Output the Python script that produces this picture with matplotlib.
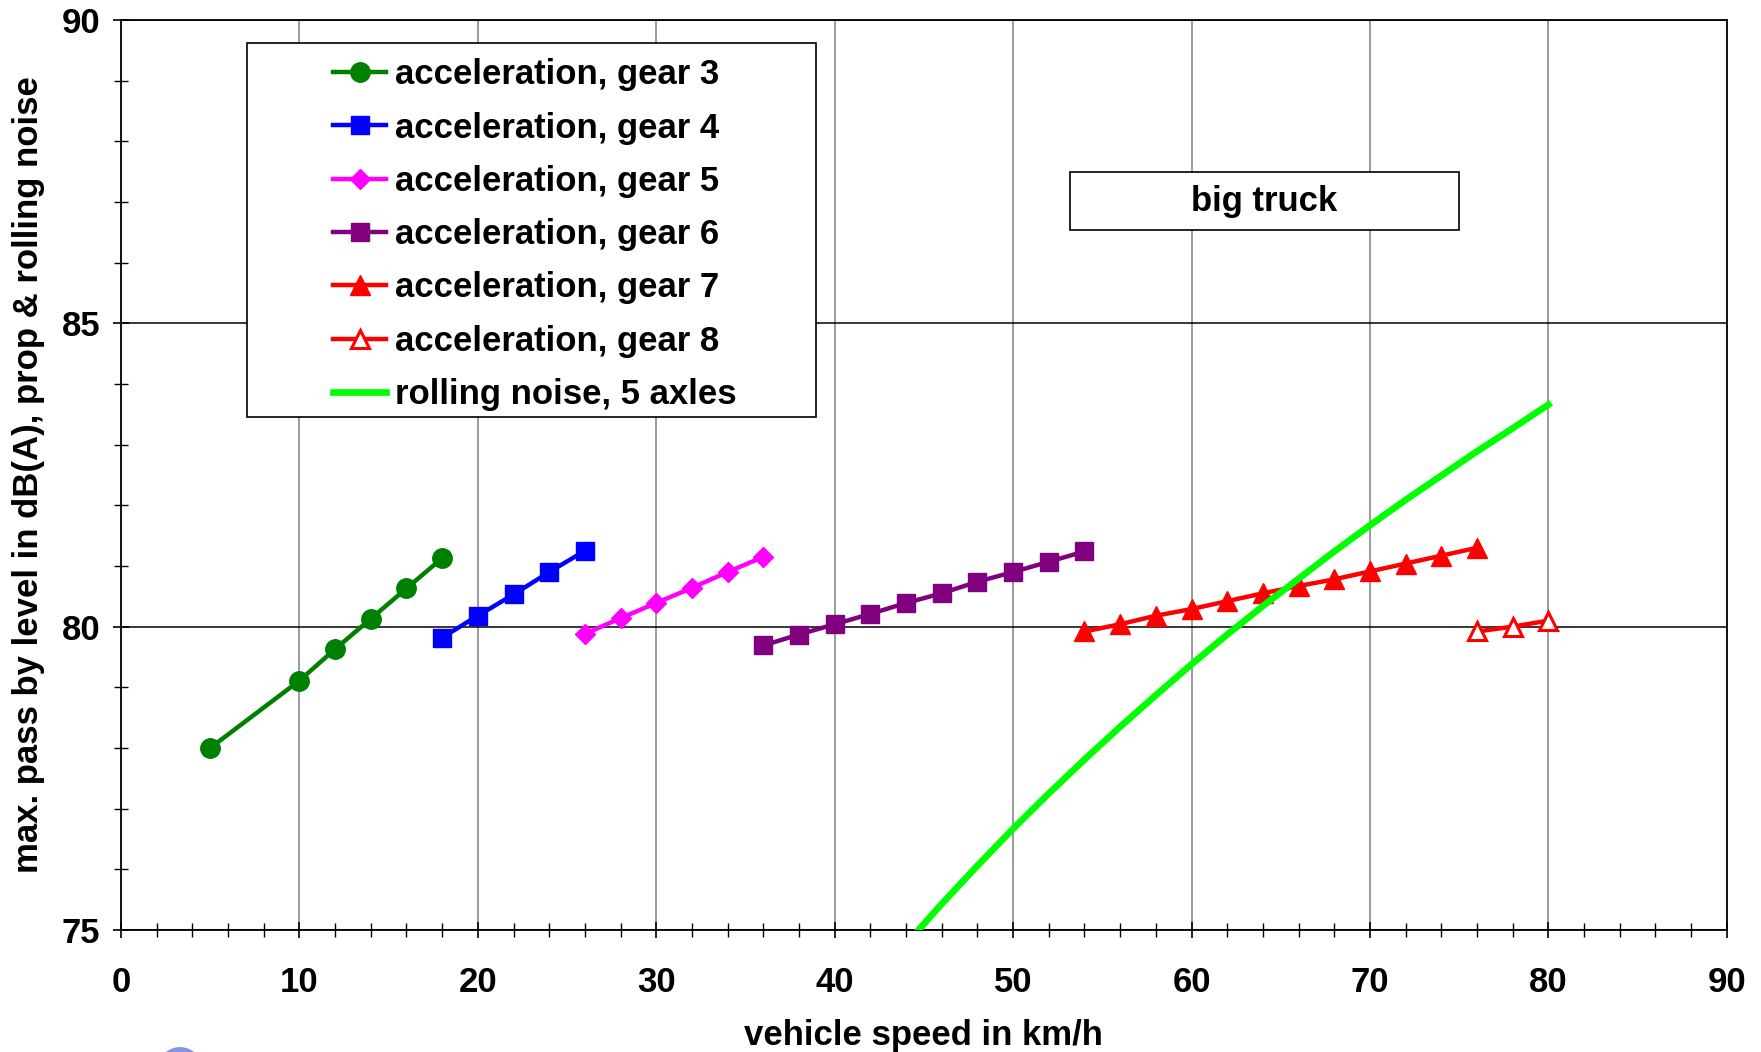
import matplotlib
matplotlib.use("Agg")
import matplotlib.pyplot as plt
from matplotlib.patches import Rectangle, Ellipse
from matplotlib.ticker import MultipleLocator

plt.rcParams['font.family'] = ['Liberation Sans', 'DejaVu Sans']
plt.rcParams['font.weight'] = 'bold'

# ---- data ----
g3_x = [5, 10, 12, 14, 16, 18]
g3_y = [78.00, 79.11, 79.63, 80.13, 80.63, 81.13]

g4_x = [18, 20, 22, 24, 26]
g4_y = [79.82, 80.18, 80.53, 80.90, 81.25]

g5_x = [26, 28, 30, 32, 34, 36]
g5_y = [79.88, 80.14, 80.39, 80.64, 80.90, 81.15]

g6_x = [36, 38, 40, 42, 44, 46, 48, 50, 52, 54]
g6_y = [79.69, 79.87, 80.04, 80.21, 80.39, 80.55, 80.74, 80.90, 81.07, 81.24]

g7_x = [54, 56, 58, 60, 62, 64, 66, 68, 70, 72, 74, 76]
g7_y = [79.92, 80.04, 80.18, 80.29, 80.42, 80.55, 80.67, 80.78, 80.91, 81.04, 81.17, 81.30]

g8_x = [76, 78, 80]
g8_y = [79.92, 80.00, 80.10]

roll_x = [44, 46, 48, 50, 52, 54, 56, 58, 60, 62, 64, 66, 68, 70, 72, 74, 76, 78, 80]
roll_y = [74.77, 75.43, 76.06, 76.67, 77.25, 77.81, 78.35, 78.87, 79.38, 79.87,
          80.34, 80.79, 81.24, 81.67, 82.09, 82.49, 82.89, 83.27, 83.66]

labels = ["acceleration, gear 3", "acceleration, gear 4", "acceleration, gear 5",
          "acceleration, gear 6", "acceleration, gear 7", "acceleration, gear 8",
          "rolling noise, 5 axles"]

x_ticks = [0, 10, 20, 30, 40, 50, 60, 70, 80, 90]
y_ticks = [75, 80, 85, 90]
x_label = "vehicle speed in km/h"
y_label = "max. pass by level in dB(A), prop & rolling noise"
note = "big truck"

# ---- figure ----
fig = plt.figure(figsize=(17.61, 10.52), dpi=100)
ax = fig.add_axes([0.0687, 0.116, 0.9119, 0.865])

lw = 3.2
ax.plot(g3_x, g3_y, color='#008000', lw=lw, marker='o', ms=14, label=labels[0], zorder=3)
ax.plot(g4_x, g4_y, color='#0000FF', lw=lw, marker='s', ms=13.5, label=labels[1], zorder=3)
ax.plot(g5_x, g5_y, color='#FF00FF', lw=lw, marker='D', ms=10.5, label=labels[2], zorder=3)
ax.plot(g6_x, g6_y, color='#800080', lw=lw, marker='s', ms=13.5, label=labels[3], zorder=3)
ax.plot(g7_x, g7_y, color='#FF0000', lw=lw, marker='^', ms=14, label=labels[4], zorder=3)
ax.plot(g8_x, g8_y, color='#FF0000', lw=lw, marker='^', ms=13.5, mfc='white', mec='#FF0000',
        mew=2.2, label=labels[5], zorder=3)
ax.plot(roll_x, roll_y, color='#00FF00', lw=4.8, label=labels[6], zorder=3)

ax.set_xlim(0, 90)
ax.set_ylim(75, 90)
ax.set_xticks(x_ticks)
ax.set_yticks(y_ticks)
ax.xaxis.set_minor_locator(MultipleLocator(2))
ax.yaxis.set_minor_locator(MultipleLocator(1))
ax.tick_params(axis='both', which='major', direction='inout', length=12, width=1.2,
               labelsize=25, color='black')
ax.tick_params(axis='both', which='minor', direction='inout', length=10, width=1.0, color='black')
ax.tick_params(axis='x', which='major', pad=20)
ax.tick_params(axis='y', which='major', pad=9)
for lab in ax.get_xticklabels() + ax.get_yticklabels():
    lab.set_fontweight('bold')

ax.xaxis.grid(True, which='major', color='#808080', lw=1.1)
ax.yaxis.grid(True, which='major', color='black', lw=1.1)
ax.set_axisbelow(True)
for s in ax.spines.values():
    s.set_color('black')
    s.set_linewidth(1.3)

ax.set_xlabel(x_label, fontsize=25, fontweight='bold', labelpad=14)
ax.set_ylabel(y_label, fontsize=25, fontweight='bold', labelpad=12)

# legend frame
ax.add_patch(Rectangle((0.0785, 0.5637), 0.4328 - 0.0785, 0.9747 - 0.5637,
                       transform=ax.transAxes, facecolor='white', edgecolor='black',
                       lw=1.2, zorder=4))
leg = ax.legend(loc='upper left', bbox_to_anchor=(0.1318, 0.958), borderaxespad=0,
                borderpad=0, frameon=False, handlelength=1.55,
                handletextpad=0.25, labelspacing=0.585,
                prop={'weight': 'bold', 'size': 25})
leg.set_zorder(5)

# note box
ax.add_patch(Rectangle((0.5909, 0.769), 0.8331 - 0.5909, 0.833 - 0.769,
                       transform=ax.transAxes, facecolor='white', edgecolor='black',
                       lw=1.2, zorder=4))
ax.text(0.712, 0.801, note, transform=ax.transAxes, ha='center', va='center',
        fontsize=25, fontweight='bold', zorder=5)

# partial logo at bottom edge
fig.patches.append(Ellipse((0.1022, -0.0219), 0.0284, 0.0532, transform=fig.transFigure,
                           facecolor='#6a78d8', edgecolor='none', alpha=0.8))

fig.savefig('out.png', dpi=100)
